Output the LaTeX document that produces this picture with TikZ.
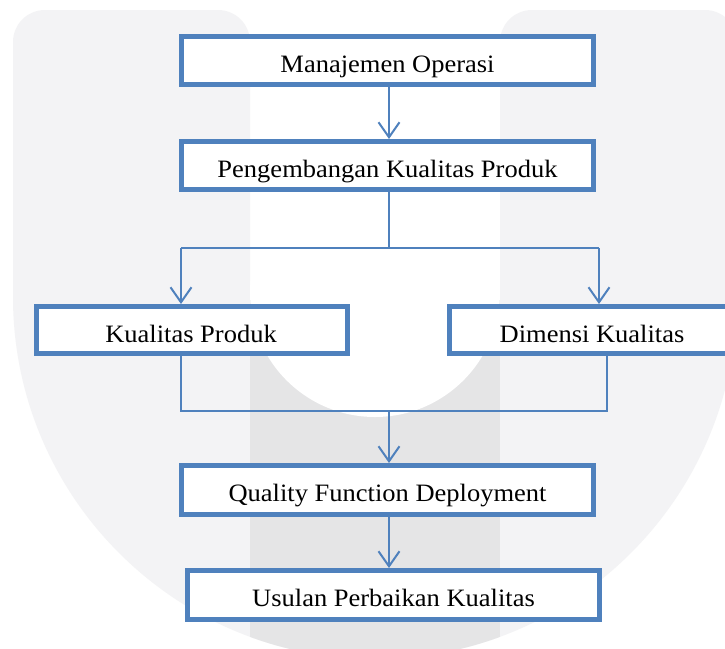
\documentclass[tikz,border=0pt]{standalone}
\usepackage{fontspec}
\setmainfont{Liberation Serif}
\usetikzlibrary{arrows.meta}
\definecolor{boxblue}{RGB}{79,129,189}
\definecolor{wmlight}{RGB}{243,243,245}
\definecolor{wmdark}{RGB}{229,229,230}
\newcommand{\wx}[1]{\scalebox{1.06}[1]{#1}}
\tikzset{
  flowbox/.style={draw=boxblue, line width=5pt, fill=white, rectangle, inner sep=0pt},
  boxtext/.style={anchor=base, inner sep=0pt, font=\fontsize{25}{28}\selectfont},
  arr/.style={draw=boxblue, line width=2pt, -{Straight Barb[length=15pt,width=21pt]}},
  link/.style={draw=boxblue, line width=1.5pt}
}
\begin{document}
\begin{tikzpicture}[x=1pt, y=-1pt]
\useasboundingbox (0,0) rectangle (725,648);
\clip (0,0) rectangle (725,648);
\fill[white] (0,0) rectangle (725,648);
% watermark
\fill[wmlight] (13,298) [rounded corners=32] -- (13,10) -- (250,10) [sharp corners] -- (250,298) -- cycle;
\fill[wmlight] (500,298) [rounded corners=32] -- (500,10) -- (737,10) [sharp corners] -- (737,298) -- cycle;
\begin{scope}
  \clip (0,297) rectangle (760,700);
  \fill[wmlight] (375,297) circle (362);
\end{scope}
\begin{scope}
  \clip (375,297) circle (362);
  \fill[wmdark] (250,292) rectangle (500,700);
\end{scope}
\fill[white] (375,292) circle (125);
% boxes
\node[flowbox, minimum width=412, minimum height=48] (b1) at (387.5,60.5) {};
\node[flowbox, minimum width=412, minimum height=48] (b2) at (387.5,165.5) {};
\node[flowbox, minimum width=311, minimum height=47] (b3) at (192,330) {};
\node[flowbox, minimum width=285, minimum height=47] (b4) at (592,330) {};
\node[flowbox, minimum width=412, minimum height=49] (b5) at (387.5,490) {};
\node[flowbox, minimum width=412, minimum height=49] (b6) at (393.5,595) {};
% texts
\node[boxtext] (t1) at (387.5,72) {\wx{Manajemen Operasi}};
\node[boxtext] (t2) at (387.5,177) {\wx{Pengembangan Kualitas Produk}};
\node[boxtext] (t3) at (191,342) {\wx{Kualitas Produk}};
\node[boxtext] (t4) at (592,342) {\wx{Dimensi Kualitas}};
\node[boxtext] (t5) at (387.5,501) {\wx{Quality Function Deployment}};
\node[boxtext] (t6) at (393.5,606) {\wx{Usulan Perbaikan Kualitas}};
% connectors
\coordinate (j1) at (389,248);
\coordinate (j2) at (389,411);
\draw[arr] ([xshift=1.5pt]b1.south) -- ([xshift=1.5pt]b2.north);
\draw[link] ([xshift=1.5pt]b2.south) -- (j1);
\draw[link] (j1) -- (j1 -| 181,0);
\draw[arr] (j1 -| 181,0) -- ([xshift=-11pt]b3.north);
\draw[link] (j1) -- (j1 -| 599,0);
\draw[arr] (j1 -| 599,0) -- ([xshift=7pt]b4.north);
\draw[link] ([xshift=-11pt]b3.south) |- (j2);
\draw[link] ([xshift=15pt]b4.south) |- (j2);
\draw[arr] (j2) -- (j2 |- b5.north);
\draw[arr] ([xshift=1.5pt]b5.south) -- ([xshift=-4.5pt]b6.north);
\end{tikzpicture}
\end{document}
